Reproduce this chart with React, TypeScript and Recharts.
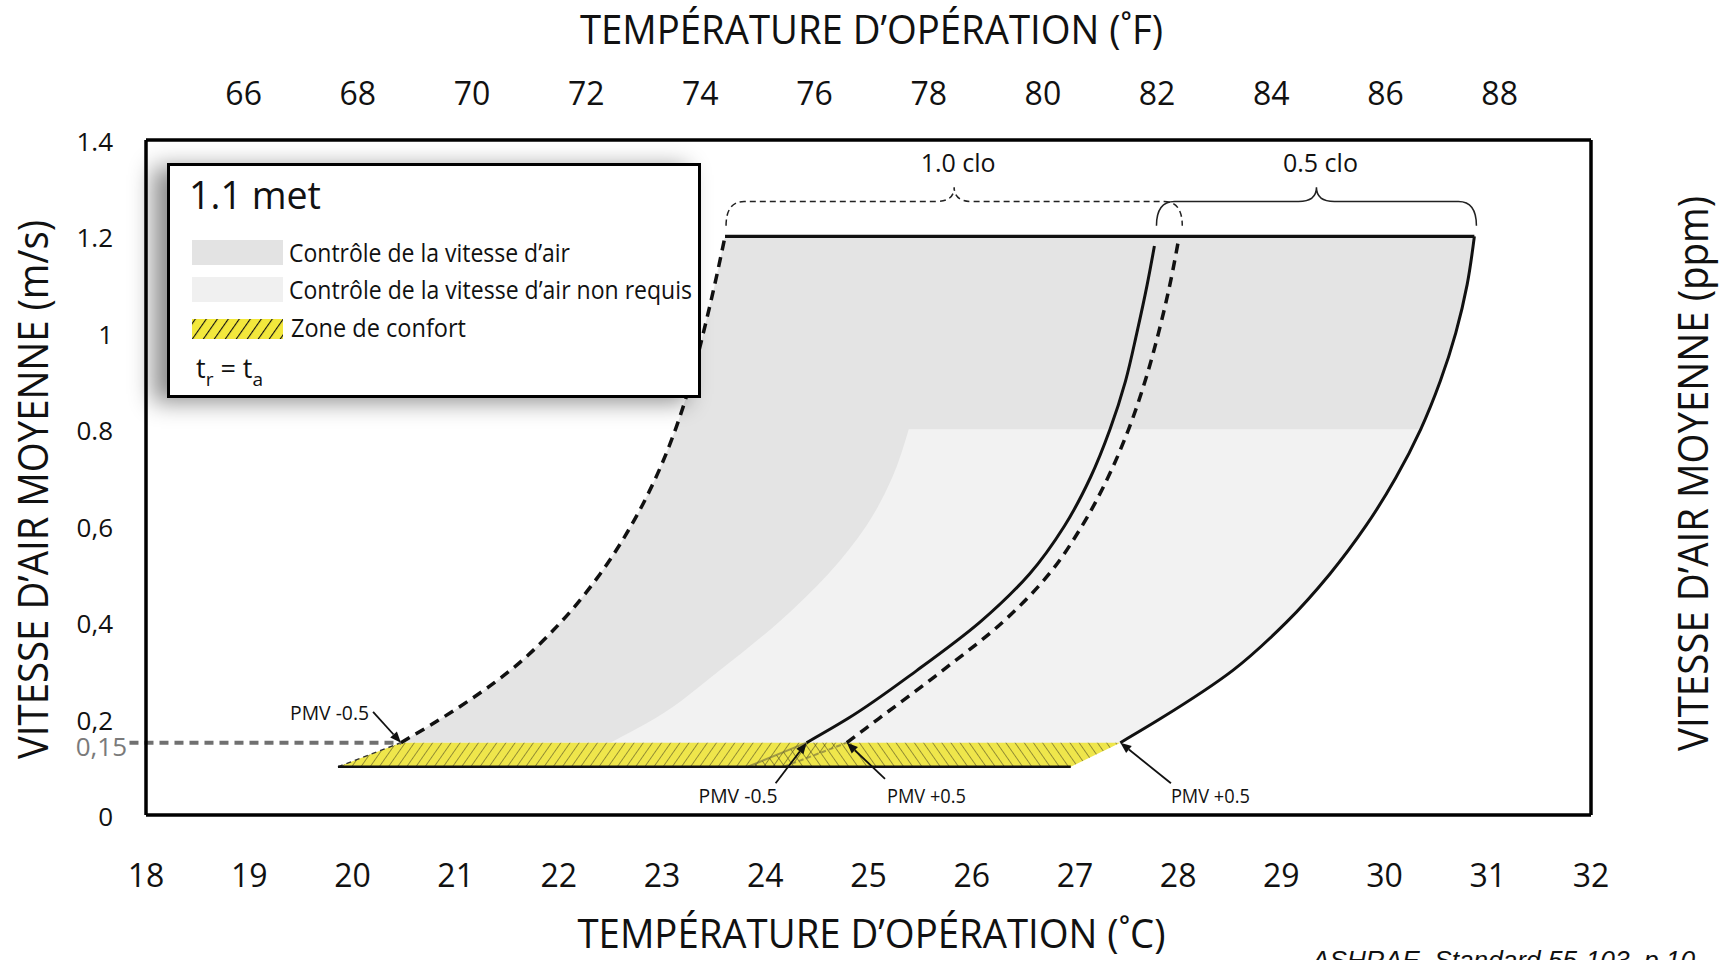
import React from 'react';
import { ComposedChart, XAxis, YAxis, Line, Area, ReferenceLine, ReferenceArea } from 'recharts';

const W = 1724;
const H = 960;
const FONT = "'Open Sans', 'Noto Sans', Arial, sans-serif";

// ---- axes ----
const tempCTicks = [18, 19, 20, 21, 22, 23, 24, 25, 26, 27, 28, 29, 30, 31, 32];
const tempFTicks = [66, 68, 70, 72, 74, 76, 78, 80, 82, 84, 86, 88];
const speedTicks = [0, 0.15, 0.2, 0.4, 0.6, 0.8, 1, 1.2, 1.4];
const speedTickLabels = ['0', '0,15', '0,2', '0,4', '0,6', '0.8', '1', '1.2', '1.4'];
const fpmTicks = [0, 0.2, 0.4, 0.6, 0.8, 1, 1.2, 1.4];
const fpmTickLabels = ['0', '39', '79', '118', '158', '197', '237', '276'];

// ---- PMV limit curves (temperature °C at each air speed m/s) ----
const curveSpeeds = [0.15, 0.2, 0.3, 0.4, 0.5, 0.6, 0.7, 0.8, 0.9, 1.0, 1.1, 1.2];
const clo10Cool = [20.47, 20.86, 21.53, 22.02, 22.4, 22.7, 22.94, 23.13, 23.28, 23.4, 23.51, 23.61];
const clo10Warm = [24.79, 25.1, 25.72, 26.3, 26.75, 27.07, 27.32, 27.52, 27.68, 27.81, 27.92, 28.01];
const clo05CoolSpeeds = [0.15, 0.2, 0.3, 0.4, 0.5, 0.6, 0.7, 0.8, 0.9, 1.0, 1.1, 1.18];
const clo05Cool = [24.4, 24.8, 25.47, 26.08, 26.56, 26.9, 27.15, 27.34, 27.49, 27.6, 27.7, 27.77];
const clo05Warm = [27.44, 27.83, 28.53, 29.05, 29.47, 29.82, 30.11, 30.35, 30.54, 30.69, 30.8, 30.87];
const noControlSpeeds = [0.15, 0.2, 0.3, 0.4, 0.5, 0.6, 0.7, 0.8];
const noControlEdge = [22.5, 22.93, 23.56, 24.13, 24.61, 24.98, 25.23, 25.39];

// ---- comfort zone (still air) ----
const comfortSpeeds = [0.1, 0.15];
const comfortCool = [19.86, 20.47];
const comfortWarm = [26.96, 27.44];
const clo10ComfortWarm = [24.18, 24.79];
const clo05ComfortCool = [23.83, 24.4];
const speedLimit = 1.2;
const stillAirSpeed = 0.15;

// ---- annotations ----
const pmvNotes = [
  { text: 'PMV -0.5', from: { x: 20.2, y: 0.214 }, to: { x: 20.47, y: 0.15 }, anchor: 'end', dx: -4, dy: 8 },
  { text: 'PMV -0.5', from: { x: 24.1, y: 0.066 }, to: { x: 24.4, y: 0.15 }, anchor: 'end', dx: 2, dy: 20 },
  { text: 'PMV +0.5', from: { x: 25.16, y: 0.075 }, to: { x: 24.79, y: 0.15 }, anchor: 'start', dx: 2, dy: 24 },
  { text: 'PMV +0.5', from: { x: 27.93, y: 0.066 }, to: { x: 27.44, y: 0.15 }, anchor: 'start', dx: 0, dy: 20 },
];
const cloBraces = [
  { text: '1.0 clo', x1: 23.62, x2: 28.04, dashed: true },
  { text: '0.5 clo', x1: 27.79, x2: 30.89, dashed: false },
];
const braceBottom = 1.222;
const braceTop = 1.302;

const legendItems = [
  { label: 'Contrôle de la vitesse d’air', fill: '#e3e3e3', width: 281 },
  { label: 'Contrôle de la vitesse d’air non requis', fill: '#f0f0f0', width: 403 },
  { label: 'Zone de confort', fill: 'hatch', width: 175 },
];

const pts = (speeds: number[], xs: number[]) => speeds.map((v, i) => ({ v, x: xs[i] }));
const band = (speeds: number[], lo: number[], hi: number[]) =>
  speeds.map((v, i) => ({ v, range: [lo[i], hi[i]] }));

const darkRegion = band(curveSpeeds, clo10Cool, clo05Warm);
const lightRegion = band(noControlSpeeds, noControlEdge, clo05Warm.slice(0, noControlSpeeds.length));
const comfortRegion = band(comfortSpeeds, comfortCool, comfortWarm);
const clo10Comfort = band(comfortSpeeds, comfortCool, clo10ComfortWarm);
const clo05Comfort = band(comfortSpeeds, clo05ComfortCool, comfortWarm);
const topLimit = [
  { v: speedLimit, x: clo10Cool[clo10Cool.length - 1] },
  { v: speedLimit, x: clo05Warm[clo05Warm.length - 1] },
];
const bottomEdge = [
  { v: comfortSpeeds[0], x: comfortCool[0] },
  { v: comfortSpeeds[0], x: comfortWarm[0] },
];

const BottomTick = (p: any) => (
  <text x={p.x} y={p.y + 72} textAnchor="middle" fontFamily={FONT} fontSize={32} fill="#111">
    {p.payload.value}
  </text>
);
const TopTick = (p: any) => (
  <text x={p.x} y={p.y - 35} textAnchor="middle" fontFamily={FONT} fontSize={32} fill="#111">
    {p.payload.value}
  </text>
);
const LeftTick = (p: any) => {
  const i = speedTicks.indexOf(p.payload.value);
  const grey = p.payload.value === stillAirSpeed;
  return (
    <text x={grey ? p.x - 19 : p.x - 33} y={p.y + (grey ? 13 : 11)} textAnchor="end" fontFamily={FONT}
      fontSize={26} fill={grey ? '#7a7a7a' : '#111'}>
      {speedTickLabels[i]}
    </text>
  );
};
const RightTick = (p: any) => {
  const i = fpmTicks.indexOf(p.payload.value);
  return (
    <text x={p.x + 9} y={p.y + 8} textAnchor="start" fontFamily={FONT} fontSize={26} fill="#111">
      {fpmTickLabels[i]}
    </text>
  );
};

const hTitle = (text: string, dy: number, len: number) => (props: any) => {
  const vb = props.viewBox || {};
  return (
    <text x={vb.x + vb.width / 2 + 3} y={vb.y + dy} textAnchor="middle" fontFamily={FONT} fontSize={41}
      fill="#111" textLength={len} lengthAdjust="spacingAndGlyphs">
      {text}
    </text>
  );
};
const vTitle = (text: string, cx: number, dyc: number, len: number) => (props: any) => {
  const vb = props.viewBox || {};
  const cy = vb.y + vb.height / 2 + dyc;
  const bx = vb.x + cx;
  return (
    <text transform={`translate(${bx},${cy}) rotate(-90)`} x={0} y={0} textAnchor="middle" fontFamily={FONT}
      fontSize={42} fill="#111" textLength={len} lengthAdjust="spacingAndGlyphs">
      {text}
    </text>
  );
};

const arrowShape = (note: any) => (p: any) => {
  const { x1, y1, x2, y2 } = p;
  const ang = Math.atan2(y2 - y1, x2 - x1);
  const L = 11;
  const hw = 4.5;
  const bx = x2 - L * Math.cos(ang);
  const by = y2 - L * Math.sin(ang);
  const px = -Math.sin(ang) * hw;
  const py = Math.cos(ang) * hw;
  return (
    <g>
      <line x1={x1} y1={y1} x2={bx} y2={by} stroke="#111" strokeWidth={1.8} />
      <polygon points={`${x2},${y2} ${bx + px},${by + py} ${bx - px},${by - py}`} fill="#111" />
      <text x={x1 + note.dx} y={y1 + note.dy} textAnchor={note.anchor} fontFamily={FONT} fontSize={20}
        fill="#111" textLength={79} lengthAdjust="spacingAndGlyphs">
        {note.text}
      </text>
    </g>
  );
};

const braceShape = (b: any) => (p: any) => {
  const { x, y, width: w, height: h } = p;
  const mid = x + w / 2;
  const hy = y + h * 0.37;
  const r = 18;
  const d = `M${x},${y + h} Q${x},${hy} ${x + r},${hy} L${mid - r},${hy} Q${mid},${hy} ${mid},${y} ` +
    `Q${mid},${hy} ${mid + r},${hy} L${x + w - r},${hy} Q${x + w},${hy} ${x + w},${y + h}`;
  return (
    <g>
      <path d={d} fill="none" stroke="#222" strokeWidth={1.5} strokeDasharray={b.dashed ? '6 4' : undefined} />
      <text x={mid + 4} y={y - 15} textAnchor="middle" fontFamily={FONT} fontSize={26} fill="#111"
        textLength={75} lengthAdjust="spacingAndGlyphs">
        {b.text}
      </text>
    </g>
  );
};

export default function App() {
  return (
    <div style={{ position: 'relative', width: W, height: H, overflow: 'hidden', background: '#fff' }}>
      <style>{'html,body{margin:0;padding:0;overflow:hidden;background:#fff}'}</style>
      <ComposedChart width={W} height={H} layout="vertical" margin={{ top: 0, right: 0, bottom: 0, left: 0 }}>
        <defs>
          <pattern id="hatchA" patternUnits="userSpaceOnUse" width={7.5} height={7.5} patternTransform="rotate(35)">
            <line x1={0} y1={0} x2={0} y2={7.5} stroke="rgba(70,66,30,0.75)" strokeWidth={1.4} />
          </pattern>
          <pattern id="hatchB" patternUnits="userSpaceOnUse" width={7.5} height={7.5} patternTransform="rotate(-35)">
            <line x1={0} y1={0} x2={0} y2={7.5} stroke="rgba(70,66,30,0.75)" strokeWidth={1.4} />
          </pattern>
        </defs>
        <XAxis xAxisId="c" type="number" orientation="bottom" domain={[18, 32]} ticks={tempCTicks}
          allowDataOverflow height={145} tickSize={0} tickMargin={0} tickLine={false}
          axisLine={{ stroke: '#000', strokeWidth: 3.5 }} tick={BottomTick} interval={0}
          label={{ content: hTitle('TEMPÉRATURE D’OPÉRATION (˚C)', 133, 588) }} />
        <XAxis xAxisId="f" type="number" orientation="top" domain={[64.29, 89.6]} ticks={tempFTicks}
          allowDataOverflow height={140} tickSize={0} tickMargin={0} tickLine={false}
          axisLine={{ stroke: '#000', strokeWidth: 3.5 }} tick={TopTick} interval={0}
          label={{ content: hTitle('TEMPÉRATURE D’OPÉRATION (˚F)', 44, 583) }} />
        <YAxis yAxisId="v" type="number" dataKey="v" orientation="left" domain={[0, 1.4]} ticks={speedTicks}
          reversed allowDataOverflow width={146} tickSize={0} tickMargin={0} tickLine={false}
          axisLine={{ stroke: '#000', strokeWidth: 3.5 }} tick={LeftTick} interval={0}
          label={{ content: vTitle('VITESSE D’AIR MOYENNE (m/s)', 48, 12, 539) }} />
        <YAxis yAxisId="p" type="number" orientation="right" domain={[0, 1.4]} ticks={fpmTicks}
          reversed allowDataOverflow width={133} tickSize={0} tickMargin={0} tickLine={false}
          axisLine={{ stroke: '#000', strokeWidth: 3.5 }} tick={RightTick} interval={0}
          label={{ content: vTitle('VITESSE D’AIR MOYENNE (ppm)', 117, -4, 555) }} />

        <Area xAxisId="c" yAxisId="v" data={darkRegion} dataKey="range" type="monotone" fill="#e4e4e4"
          fillOpacity={1} stroke="none" isAnimationActive={false} dot={false} activeDot={false} />
        <Area xAxisId="c" yAxisId="v" data={lightRegion} dataKey="range" type="monotone" fill="#f2f2f2"
          fillOpacity={1} stroke="none" isAnimationActive={false} dot={false} activeDot={false} />
        <Area xAxisId="c" yAxisId="v" data={comfortRegion} dataKey="range" type="linear" fill="#efe64b"
          fillOpacity={1} stroke="none" isAnimationActive={false} dot={false} activeDot={false} />
        <Area xAxisId="c" yAxisId="v" data={clo10Comfort} dataKey="range" type="linear" fill="url(#hatchA)"
          fillOpacity={1} stroke="none" isAnimationActive={false} dot={false} activeDot={false} />
        <Area xAxisId="c" yAxisId="v" data={clo05Comfort} dataKey="range" type="linear" fill="url(#hatchB)"
          fillOpacity={1} stroke="none" isAnimationActive={false} dot={false} activeDot={false} />

        <Line xAxisId="c" yAxisId="v" data={pts(comfortSpeeds, clo05ComfortCool)} dataKey="x" type="linear"
          stroke="rgba(110,105,60,0.6)" strokeWidth={2} dot={false} activeDot={false} isAnimationActive={false} />
        <Line xAxisId="c" yAxisId="v" data={pts(comfortSpeeds, clo10ComfortWarm)} dataKey="x" type="linear"
          stroke="rgba(110,105,60,0.6)" strokeWidth={2} strokeDasharray="5 3" dot={false} activeDot={false}
          isAnimationActive={false} />
        <Line xAxisId="c" yAxisId="v" data={pts(comfortSpeeds, comfortCool)} dataKey="x" type="linear"
          stroke="#333" strokeWidth={1.4} strokeDasharray="5 4" dot={false} activeDot={false} isAnimationActive={false} />
        <Line xAxisId="c" yAxisId="v" data={bottomEdge} dataKey="x" type="linear" stroke="#111" strokeWidth={2.6}
          dot={false} activeDot={false} isAnimationActive={false} />

        <Line xAxisId="c" yAxisId="v" data={pts(curveSpeeds, clo10Cool)} dataKey="x" type="monotone"
          stroke="#111" strokeWidth={3.5} strokeDasharray="10 7" dot={false} activeDot={false} isAnimationActive={false} />
        <Line xAxisId="c" yAxisId="v" data={pts(curveSpeeds, clo10Warm)} dataKey="x" type="monotone"
          stroke="#111" strokeWidth={3.5} strokeDasharray="10 7" dot={false} activeDot={false} isAnimationActive={false} />
        <Line xAxisId="c" yAxisId="v" data={pts(clo05CoolSpeeds, clo05Cool)} dataKey="x" type="monotone"
          stroke="#111" strokeWidth={3} dot={false} activeDot={false} isAnimationActive={false} />
        <Line xAxisId="c" yAxisId="v" data={pts(curveSpeeds, clo05Warm)} dataKey="x" type="monotone"
          stroke="#111" strokeWidth={3} dot={false} activeDot={false} isAnimationActive={false} />
        <Line xAxisId="c" yAxisId="v" data={topLimit} dataKey="x" type="linear" stroke="#111" strokeWidth={3.2}
          dot={false} activeDot={false} isAnimationActive={false} />

        <ReferenceLine xAxisId="c" yAxisId="v" ifOverflow="visible"
          segment={[{ x: 17.84, y: stillAirSpeed }, { x: comfortCool[1], y: stillAirSpeed }]}
          stroke="#707070" strokeWidth={4} strokeDasharray="9 6" />

        {pmvNotes.map((n, i) => (
          <ReferenceLine key={'pmv' + i} xAxisId="c" yAxisId="v" ifOverflow="visible"
            segment={[n.from, n.to]} shape={arrowShape(n)} />
        ))}
        {cloBraces.map((b, i) => (
          <ReferenceArea key={'clo' + i} xAxisId="c" yAxisId="v" ifOverflow="visible" x1={b.x1} x2={b.x2}
            y1={braceBottom} y2={braceTop} shape={braceShape(b)} />
        ))}
      </ComposedChart>

      <svg width={W} height={H} style={{ position: 'absolute', left: 0, top: 0, pointerEvents: 'none' }}>
        <text x={1312} y={969} fontFamily="'Liberation Sans', Arial, sans-serif" fontStyle="italic" fontSize={25}
          fill="#111" textLength={383} lengthAdjust="spacingAndGlyphs">
          ASHRAE, Standard 55-103, p.10
        </text>
      </svg>

      <div style={{
        position: 'absolute', left: 167, top: 163, width: 534, height: 235, boxSizing: 'border-box',
        border: '3px solid #000', background: '#fff', boxShadow: '-14px 4px 22px rgba(0,0,0,0.45)',
      }}>
        <svg width={660} height={229} style={{ display: 'block', overflow: 'visible' }}>
          <defs>
            <pattern id="legHatch" patternUnits="userSpaceOnUse" width={9} height={9} patternTransform="rotate(35)">
              <line x1={0} y1={0} x2={0} y2={9} stroke="#111" strokeWidth={2.2} />
            </pattern>
          </defs>
          <text x={19} y={43} fontFamily={FONT} fontSize={39} fill="#111" textLength={132}
            lengthAdjust="spacingAndGlyphs">1.1 met</text>
          {legendItems.map((it, i) => {
            const top = [74, 111, 153][i];
            const h = i === 2 ? 20 : 25;
            return (
              <g key={i}>
                {it.fill === 'hatch' ? (
                  <g>
                    <rect x={22} y={top} width={91} height={h} fill="#f3e83c" />
                    <rect x={22} y={top} width={91} height={h} fill="url(#legHatch)" />
                  </g>
                ) : (
                  <rect x={22} y={top} width={91} height={h} fill={it.fill} />
                )}
                <text x={i === 2 ? 121 : 119} y={[96, 133, 171][i]} fontFamily={FONT} fontSize={25} fill="#111"
                  textLength={it.width} lengthAdjust="spacingAndGlyphs">{it.label}</text>
              </g>
            );
          })}
          <text x={26} y={212} fontFamily={FONT} fontSize={27} fill="#111">
            t<tspan fontSize={19} dy={8}>r</tspan><tspan dy={-8}> = t</tspan><tspan fontSize={19} dy={8}>a</tspan>
          </text>
        </svg>
      </div>
    </div>
  );
}
